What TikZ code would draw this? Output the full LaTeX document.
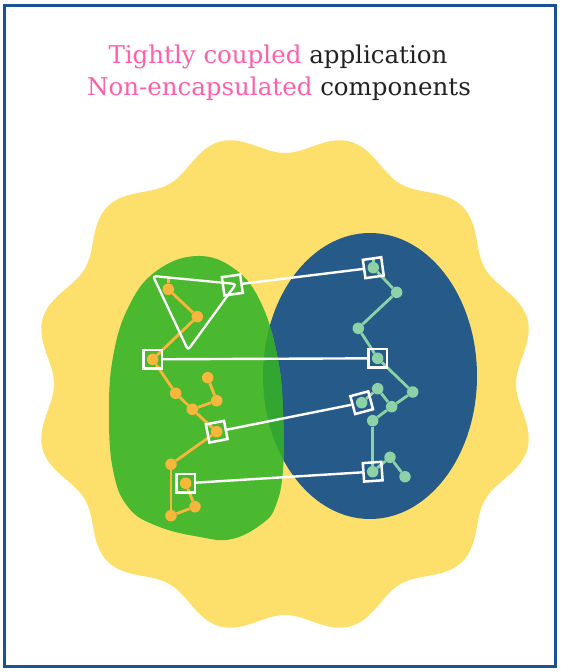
\documentclass[tikz,border=0pt]{standalone}
\usepackage{fontspec}
\setmainfont{DejaVu Serif}
\usepackage{xcolor}
\usetikzlibrary{positioning}

\definecolor{sunyellow}{HTML}{FDE06B}
\definecolor{leafgreen}{HTML}{4BB92F}
\definecolor{mixgreen}{HTML}{33A632}
\definecolor{deepblue}{HTML}{265A88}
\definecolor{frameblue}{HTML}{1A5294}
\definecolor{amber}{HTML}{F9B63D}
\definecolor{mint}{HTML}{8DD2A6}
\definecolor{hotpink}{HTML}{FF5FA8}
\definecolor{ink}{HTML}{222222}

\begin{document}
\begin{tikzpicture}[x=1pt, y=-1pt,
    title/.style={font=\fontsize{24.5}{28}\selectfont, text=ink, anchor=base, inner sep=0pt},
    dot/.style={circle, fill=#1, inner sep=0pt, minimum size=11.5pt},
    port/.style={draw=white, line width=2.5pt, minimum size=18.5pt, inner sep=0pt},
    wire/.style={draw=white, line width=2.4pt},
    link/.style={draw=#1, line width=2.8pt}]
    \useasboundingbox (0,0) rectangle (560,672);

    % frame
    \draw[frameblue, line width=3pt] (4,5) rectangle (555,666);

    % heading
    \node[title] (title_1) at (278,63) {\textcolor{hotpink}{Tightly coupled} application};
    \node[title] (title_2) at (279,95) {\textcolor{hotpink}{Non-encapsulated} components};

    % wavy background
    \fill[sunyellow] plot[smooth cycle, domain=0:358, samples=180, variable=\t]
      ({285+(241-10*cos(12*\t))*cos(\t)}, {384+(241-10*cos(12*\t))*sin(\t)});

    % the two parts
    \fill[deepblue] (370,376) ellipse [x radius=107, y radius=143];
    \def\greenblob{plot[smooth cycle, tension=0.7] coordinates {(197,256) (236,270) (262,305)
      (278,360) (283,413) (283,470) (276,505) (263,523) (232,539) (200,537) (157,526)
      (128,507) (113,470) (109,413) (113,357) (128,308) (155,272)}}
    \fill[leafgreen] \greenblob;
    \begin{scope}
      \clip (370,376) ellipse [x radius=107, y radius=143];
      \fill[mixgreen] \greenblob;
    \end{scope}

    % left components
    \coordinate (o_0) at (168.3,278);
    \node[dot=amber] (o_1)  at (168.3,289.3) {};
    \node[dot=amber] (o_2)  at (197.3,316.7) {};
    \node[dot=amber] (o_3)  at (152.7,359.3) {};
    \node[dot=amber] (o_4)  at (175.7,393.3) {};
    \node[dot=amber] (o_5)  at (192.3,409.3) {};
    \node[dot=amber] (o_6)  at (216.7,400.7) {};
    \node[dot=amber] (o_7)  at (207.7,377.7) {};
    \node[dot=amber] (o_8)  at (216.7,431.7) {};
    \node[dot=amber] (o_9)  at (171,464.3) {};
    \node[dot=amber] (o_10) at (171,515.7) {};
    \node[dot=amber] (o_11) at (195,506.7) {};
    \node[dot=amber] (o_12) at (185.7,483.3) {};
    \path[link=amber]
    (o_1) edge (o_0)  (o_1) edge (o_2)  (o_2) edge (o_3)  (o_3) edge (o_4)
    (o_4) edge (o_5)  (o_5) edge (o_6)  (o_6) edge (o_7)  (o_5) edge (o_8)
    (o_8) edge (o_9)  (o_9) edge (o_10) (o_10) edge (o_11) (o_11) edge (o_12);

    % right components
    \coordinate (g_0) at (373.3,258);
    \node[dot=mint] (g_1)  at (373.3,267.7) {};
    \node[dot=mint] (g_2)  at (396.7,292.3) {};
    \node[dot=mint] (g_3)  at (358.3,328.3) {};
    \node[dot=mint] (g_4)  at (377.7,358.3) {};
    \node[dot=mint] (g_5)  at (412.7,392) {};
    \node[dot=mint] (g_6)  at (391.7,406.7) {};
    \node[dot=mint] (g_7)  at (377.7,388.7) {};
    \node[dot=mint] (g_8)  at (361.7,402.7) {};
    \node[dot=mint] (g_9)  at (372.7,420.7) {};
    \node[dot=mint] (g_10) at (372.7,471.7) {};
    \node[dot=mint] (g_11) at (390,457.3) {};
    \node[dot=mint] (g_12) at (405,476.7) {};
    \path[link=mint]
    (g_1) edge (g_0)  (g_1) edge (g_2)  (g_2) edge (g_3)  (g_3) edge (g_4)
    (g_4) edge (g_5)  (g_5) edge (g_6)  (g_6) edge (g_7)  (g_7) edge (g_8)
    (g_6) edge (g_9)  (g_9) edge (g_10) (g_10) edge (g_11) (g_11) edge (g_12);

    % loose triangle
    \draw[white, line width=2.3pt, rounded corners=3pt] (153,276) -- (236,284) -- (188,350) -- cycle;

    % ports
    \node[port] (s_1) at (o_3) {};
    \node[port, rotate=8] (s_2) at (232.3,285) {};
    \node[port, rotate=11] (s_3) at (o_8) {};
    \node[port] (s_4) at (o_12) {};
    \node[port, rotate=8] (t_1) at (g_1) {};
    \node[port] (t_2) at (g_4) {};
    \node[port, rotate=15] (t_3) at (g_8) {};
    \node[port, rotate=4] (t_4) at (g_10) {};

    \path[wire]
    (s_2) edge (t_1)
    (s_1) edge (t_2)
    (s_3) edge (t_3)
    (s_4) edge (t_4);
\end{tikzpicture}
\end{document}
